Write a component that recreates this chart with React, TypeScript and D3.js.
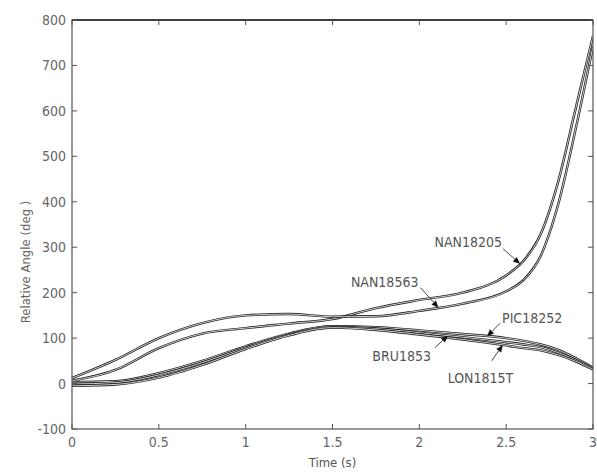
import React from 'react'
import * as d3 from 'd3'

// sample times (s)
const times = [0, 0.25, 0.5, 0.75, 1, 1.25, 1.5, 1.75, 2, 2.25, 2.5, 2.6, 2.7, 2.8, 2.9, 3]

// relative angle (deg)
const nan18205 = [6, 30, 78, 110, 122, 132, 142, 166, 184, 200, 238, 270, 330, 445, 605, 765]
const nan18563 = [12, 52, 100, 133, 150, 153, 147, 148, 160, 176, 203, 228, 282, 395, 560, 742]
const pic18252 = [3, 5, 23, 50, 82, 110, 126, 124, 117, 109, 100, 94, 86, 74, 56, 35]
const bru1853 = [-1, 2, 19, 46, 79, 108, 124, 121, 112, 102, 91, 86, 80, 68, 52, 33]
const lon1815t = [-5, -2, 13, 41, 76, 106, 123, 118, 108, 97, 84, 78, 73, 63, 49, 31]

const xTicks = [0, 0.5, 1, 1.5, 2, 2.5, 3]
const yTicks = [-100, 0, 100, 200, 300, 400, 500, 600, 700, 800]

const series = [
  { name: 'NAN18205', values: nan18205 },
  { name: 'NAN18563', values: nan18563 },
  { name: 'PIC18252', values: pic18252 },
  { name: 'BRU1853', values: bru1853 },
  { name: 'LON1815T', values: lon1815t }
]

// label callouts: which series, time of the arrow tip, tail offset and text placement
const callouts = [
  { name: 'NAN18205', t: 2.58, tail: [-17, -15], text: [-18, -17], anchor: 'end' },
  { name: 'NAN18563', t: 2.11, tail: [-18, -20], text: [-20, -21], anchor: 'end' },
  { name: 'PIC18252', t: 2.39, tail: [13, -13], text: [15, -13], anchor: 'start' },
  { name: 'BRU1853', t: 2.165, tail: [-13, 12], text: [-17, 25], anchor: 'end' },
  { name: 'LON1815T', t: 2.48, tail: [-11, 16], text: [-55, 38], anchor: 'start' }
]

const W = 597
const H = 473
const M = { left: 72, right: 4, top: 20, bottom: 44 }
const FONT = "'Liberation Sans Narrow', 'DejaVu Sans Condensed', 'Liberation Sans', Arial, sans-serif"

const valueAt = (vals: number[], t: number) => {
  const i = Math.min(times.length - 2, d3.bisectRight(times, t) - 1)
  const f = (t - times[i]) / (times[i + 1] - times[i])
  return vals[i] + f * (vals[i + 1] - vals[i])
}

const App = () => {
  const x = d3.scaleLinear().domain([0, 3]).range([M.left, W - M.right])
  const y = d3.scaleLinear().domain([-100, 800]).range([H - M.bottom, M.top])

  const line = d3
    .line<number>()
    .x((d, i) => x(times[i]))
    .y(d => y(d))
    .curve(d3.curveMonotoneX)

  const x0 = x(0)
  const x1 = x(3)
  const y0 = y(-100)
  const y1 = y(800)
  const tick = 5

  return (
    <svg width={W} height={H} style={{ position: 'absolute', left: 0, top: 0, background: '#fff' }}>
      <defs>
        <clipPath id="plot">
          <rect x={x0} y={y1} width={x1 - x0} height={y0 - y1} />
        </clipPath>
      </defs>

      {/* curves, drawn as thin double lines like the scan */}
      <g clipPath="url(#plot)" fill="none">
        {series.map(s => (
          <g key={s.name}>
            <path d={line(s.values) || ''} stroke="#1a1a1a" strokeWidth={2.4} />
            <path d={line(s.values) || ''} stroke="#fff" strokeWidth={0.8} />
          </g>
        ))}
      </g>

      {/* axes box */}
      <rect x={x0} y={y1} width={x1 - x0} height={y0 - y1} fill="none" stroke="#555" strokeWidth={1.2} />
      <line x1={x0} x2={x1} y1={y1} y2={y1} stroke="#222" strokeWidth={1.4} />

      {xTicks.map(t => (
        <g key={'x' + t}>
          <line x1={x(t)} x2={x(t)} y1={y0} y2={y0 - tick} stroke="#555" />
          <line x1={x(t)} x2={x(t)} y1={y1} y2={y1 + tick} stroke="#555" />
          <text x={x(t)} y={y0 + 18} textAnchor="middle" fontFamily={FONT} fontSize={14} fill="#666">
            {t}
          </text>
        </g>
      ))}

      {yTicks.map(v => (
        <g key={'y' + v}>
          <line x1={x0} x2={x0 + tick} y1={y(v)} y2={y(v)} stroke="#555" />
          <line x1={x1} x2={x1 - tick} y1={y(v)} y2={y(v)} stroke="#555" />
          <text x={x0 - 6} y={y(v) + 5} textAnchor="end" fontFamily={FONT} fontSize={14} fill="#666">
            {v}
          </text>
        </g>
      ))}

      <text x={(x0 + x1) / 2} y={H - 6} textAnchor="middle" fontFamily={FONT} fontSize={13} fill="#555">
        Time (s)
      </text>
      <text
        transform={`translate(30, 262) rotate(-90)`}
        textAnchor="middle"
        fontFamily={FONT}
        fontSize={13}
        fill="#666"
      >
        Relative Angle (deg )
      </text>

      {/* callouts */}
      {callouts.map(c => {
        const s = series.find(d => d.name === c.name)!
        const tx = x(c.t)
        const ty = y(valueAt(s.values, c.t))
        const ax = tx + c.tail[0]
        const ay = ty + c.tail[1]
        const ang = Math.atan2(ty - ay, tx - ax)
        const len = 7
        const wid = 3
        const bx = tx - len * Math.cos(ang)
        const by = ty - len * Math.sin(ang)
        const p1 = [bx + wid * Math.sin(ang), by - wid * Math.cos(ang)]
        const p2 = [bx - wid * Math.sin(ang), by + wid * Math.cos(ang)]
        return (
          <g key={c.name}>
            <line x1={ax} y1={ay} x2={bx} y2={by} stroke="#333" strokeWidth={0.9} />
            <polygon points={`${tx},${ty} ${p1[0]},${p1[1]} ${p2[0]},${p2[1]}`} fill="#111" />
            <text
              x={tx + c.text[0]}
              y={ty + c.text[1]}
              textAnchor={c.anchor as 'start' | 'end'}
              fontFamily={FONT}
              fontSize={14}
              fill="#555"
            >
              {c.name}
            </text>
          </g>
        )
      })}
    </svg>
  )
}

export default App
